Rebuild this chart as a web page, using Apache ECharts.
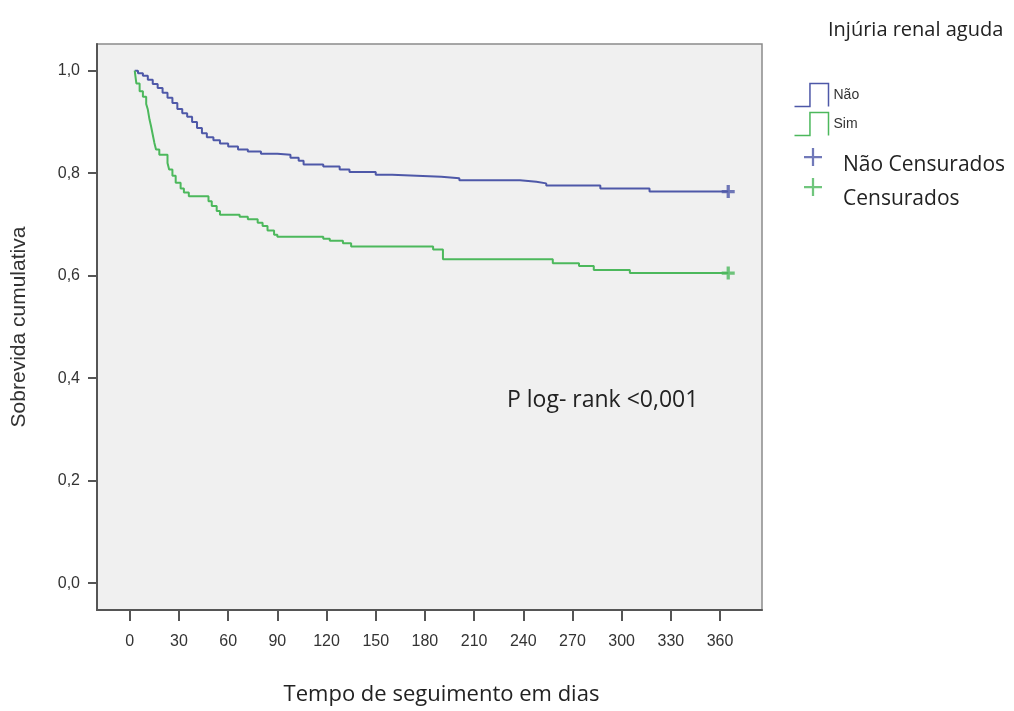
<!DOCTYPE html>
<html>
<head>
<meta charset="utf-8">
<script src="https://cdn.jsdelivr.net/npm/echarts@6/dist/echarts.min.js"></script>
<style>html,body{margin:0;padding:0;background:#fff;}#c{width:1014px;height:711px;}</style>
</head>
<body>
<div id="c"></div>
<script>
// ---- data ----
const xTicks = [0, 30, 60, 90, 120, 150, 180, 210, 240, 270, 300, 330, 360];
const yTicks = [0, 0.2, 0.4, 0.6, 0.8, 1.0];

const naoDays = [3, 5, 8, 11, 14, 17, 20, 23, 26, 29, 32, 35, 38, 41, 44, 47, 51, 55, 60, 66, 72, 80, 90, 98, 103, 106, 118, 128, 134, 150, 160, 175, 190, 201, 238, 248, 254, 287, 317, 365];
const naoSurv = [1.0, 0.995, 0.99, 0.982, 0.974, 0.966, 0.957, 0.947, 0.937, 0.925, 0.917, 0.910, 0.900, 0.888, 0.878, 0.870, 0.864, 0.858, 0.852, 0.846, 0.842, 0.838, 0.836, 0.830, 0.824, 0.817, 0.813, 0.807, 0.802, 0.797, 0.795, 0.793, 0.790, 0.786, 0.783, 0.780, 0.776, 0.770, 0.764, 0.764];

const simDays = [3, 4, 6, 8, 10, 11, 12, 13, 14, 15, 16, 18, 23, 24, 26, 28, 31, 33, 36, 48, 50, 53, 55, 67, 72, 78, 81, 84, 88, 90, 118, 122, 130, 135, 185, 191, 258, 274, 283, 305, 365];
const simSurv = [1.0, 0.975, 0.96, 0.949, 0.935, 0.924, 0.905, 0.891, 0.875, 0.859, 0.846, 0.836, 0.820, 0.807, 0.795, 0.781, 0.770, 0.762, 0.755, 0.745, 0.736, 0.726, 0.719, 0.715, 0.710, 0.703, 0.697, 0.688, 0.680, 0.676, 0.672, 0.668, 0.663, 0.657, 0.651, 0.632, 0.624, 0.619, 0.611, 0.605, 0.605];

const censNao = [[365, 0.764]];
const censSim = [[365, 0.605]];

const names = ['Não', 'Sim', 'Não Censurados', 'Censurados'];
const legendTitle = 'Injúria renal aguda';
const xName = 'Tempo de seguimento em dias';
const yName = 'Sobrevida cumulativa';
const pText = 'P log- rank <0,001';

// ---- chart ----
const BLUE = '#4e58a8';
const GREEN = '#4cb85c';
const zip = (a, b) => a.map((v, i) => [v, b[i]]);
const plusThick = 'path://M6,0H10V6H16V10H10V16H6V10H0V6H6Z';
const plusThin = 'path://M7,0H9V7H16V9H9V16H7V9H0V7H7Z';
const stepIcon = 'path://M0,23H15V1H33V23';
const FONT_UI = '"Open Sans", Lato, sans-serif';
const FONT_AX = '"Liberation Sans", Arial, sans-serif';

const censLegend = (name, top, drop) => ({
  data: [name], icon: plusThin,
  orient: 'vertical', left: 804, top: top, padding: 0,
  itemWidth: 18, itemHeight: 18,
  selectedMode: false,
  formatter: '{a|{name}}',
  textStyle: {
    fontFamily: FONT_UI, fontSize: 21, color: '#222', padding: [0, 0, 0, 16],
    rich: {a: {fontFamily: FONT_UI, fontSize: 21, color: '#222', padding: [drop, 0, 0, 0]}}
  }
});

const chart = echarts.init(document.getElementById('c'), null, {renderer: 'canvas'});
chart.setOption({
  animation: false,
  backgroundColor: '#ffffff',
  title: {
    text: legendTitle,
    left: 828, top: 20, padding: 0,
    textStyle: {fontFamily: FONT_UI, fontSize: 20, fontWeight: 'normal', color: '#222'}
  },
  legend: [
    {
      data: [
        {name: names[0], itemStyle: {color: 'none', borderColor: BLUE, borderWidth: 1.5}},
        {name: names[1], itemStyle: {color: 'none', borderColor: GREEN, borderWidth: 1.5}}
      ],
      icon: stepIcon,
      symbolKeepAspect: false,
      orient: 'vertical', left: 792, top: 81, padding: 0,
      itemWidth: 34, itemHeight: 23, itemGap: 1,
      selectedMode: false,
      lineStyle: {opacity: 0},
      textStyle: {fontFamily: FONT_AX, fontSize: 14, color: '#333'}
    },
    censLegend(names[2], 148, 16),
    censLegend(names[3], 178, 24)
  ],
  grid: {
    left: 97, top: 44, width: 665, height: 568,
    show: true, backgroundColor: '#f0f0f0', borderColor: '#8a8a8a', borderWidth: 1.5
  },
  xAxis: {
    type: 'value', min: -20, max: 385.6,
    name: xName, nameLocation: 'middle', nameGap: 74,
    nameTextStyle: {fontFamily: FONT_UI, fontSize: 22, color: '#222', padding: [0, 0, 0, 24]},
    axisLine: {show: true, onZero: false, lineStyle: {color: '#555', width: 2}},
    axisTick: {show: true, length: 11, customValues: xTicks, lineStyle: {color: '#555', width: 2}},
    axisLabel: {customValues: xTicks, margin: 24, fontFamily: FONT_AX, fontSize: 16, color: '#333'},
    splitLine: {show: false}
  },
  yAxis: {
    type: 'value', min: -0.0525, max: 1.052,
    name: yName, nameLocation: 'middle', nameGap: 67, nameRotate: 90,
    nameTextStyle: {fontFamily: FONT_AX, fontSize: 21, color: '#333'},
    axisLine: {show: true, onZero: false, lineStyle: {color: '#555', width: 2}},
    axisTick: {show: true, length: 9, customValues: yTicks, lineStyle: {color: '#555', width: 2}},
    axisLabel: {customValues: yTicks, margin: 17, fontFamily: FONT_AX, fontSize: 16, color: '#333',
      formatter: v => v.toFixed(1).replace('.', ',')},
    splitLine: {show: false}
  },
  graphic: [
    {type: 'text', left: 507, top: 389,
      style: {text: pText, fontFamily: FONT_UI, fontSize: 23, fill: '#222'}}
  ],
  series: [
    {name: names[0], type: 'line', step: 'end', symbol: 'none', data: zip(naoDays, naoSurv),
      color: BLUE, lineStyle: {color: BLUE, width: 2}},
    {name: names[1], type: 'line', step: 'end', symbol: 'none', data: zip(simDays, simSurv),
      color: GREEN, lineStyle: {color: GREEN, width: 2}},
    {name: names[2], type: 'scatter', symbol: plusThick, symbolSize: 13, data: censNao, color: BLUE},
    {name: names[3], type: 'scatter', symbol: plusThick, symbolSize: 13, data: censSim, color: GREEN}
  ]
});
</script>
</body>
</html>
